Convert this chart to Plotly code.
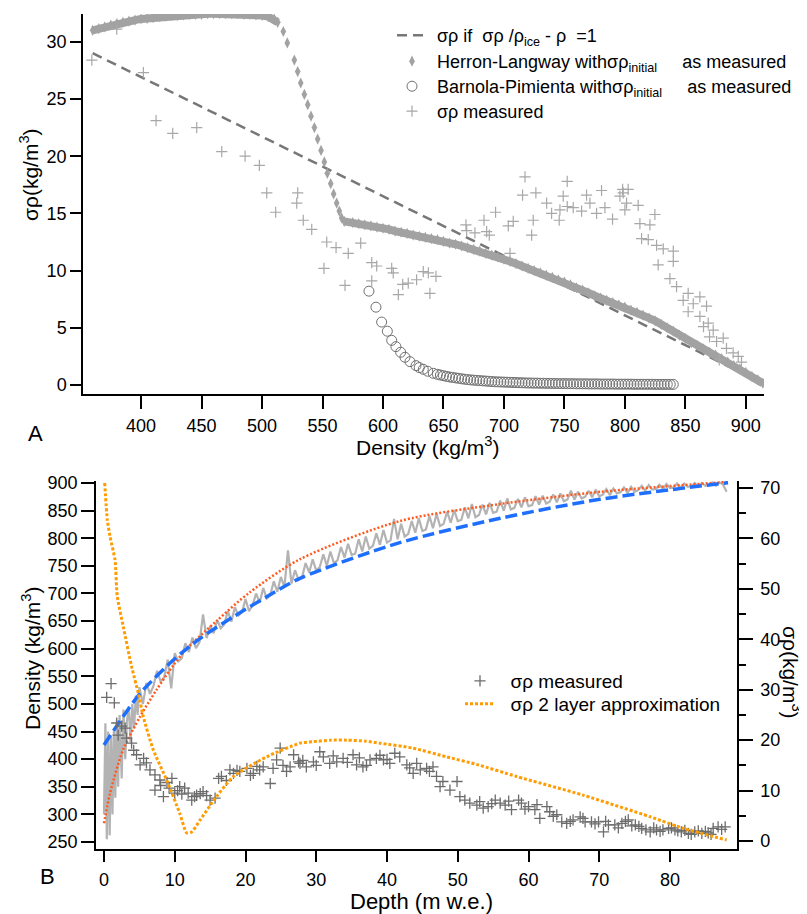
import plotly.graph_objects as go

FONT = "Liberation Sans, Arial, Helvetica, sans-serif"

# ---------------- Panel A data ----------------
# sigma-rho if sigma-rho/(rho_ice - rho) = 1 (straight line, end points)
lim_rho = [360, 914]
lim_sig = [29.0, 0.15]

# Herron-Langway model with initial sigma-rho as measured
hl_rho = [360, 365, 370, 375, 380, 385, 390, 395, 400, 405, 410, 415, 420, 425, 430,
          435, 440, 445, 450, 455, 460, 465, 470, 475, 480, 485, 490, 495, 500, 505,
          510, 513,
          517.6, 520.9, 526.7, 529.5, 532.0, 535.0, 537.8, 540.5, 543.3, 546.0, 548.8,
          551.5, 554.0, 556.8, 559.2, 561.7, 563.9, 565.8,
          568, 575, 580, 585, 590, 595, 600, 605, 610, 615, 620, 625, 630, 635, 640, 645,
          650, 655, 660, 665, 670, 675, 680, 685, 690, 695, 700, 705, 710, 715, 720, 725,
          730, 735, 740, 745, 750, 755, 760, 765, 770, 775, 780, 785, 790, 795, 800, 805,
          810, 815, 820, 825, 830, 835, 840, 845, 850, 855, 860, 865, 870, 875, 880, 885,
          890, 895, 900, 905, 910, 914]
hl_sig = [31.0, 31.15, 31.3, 31.45, 31.6, 31.7, 31.8, 31.9, 32.0, 32.05, 32.1, 32.2, 32.25,
          32.3, 32.3, 32.35, 32.4, 32.4, 32.4, 32.45, 32.45, 32.45, 32.45, 32.45, 32.45,
          32.4, 32.4, 32.35, 32.3, 32.2, 32.0, 31.7,
          30.9, 29.9, 28.4, 27.4, 26.4, 25.4, 24.5, 23.5, 22.5, 21.5, 20.5,
          19.5, 18.5, 17.6, 16.7, 15.9, 15.2, 14.6,
          14.3, 14.2, 14.1, 14.0, 13.9, 13.8, 13.7, 13.6, 13.45, 13.35, 13.25, 13.1, 13.0,
          12.9, 12.8, 12.7, 12.55, 12.4, 12.3, 12.15, 12.0, 11.85, 11.7, 11.5, 11.35, 11.2,
          11.0, 10.8, 10.6, 10.4, 10.2, 10.0, 9.8, 9.6, 9.4, 9.2, 9.0, 8.75, 8.5, 8.3, 8.05,
          7.8, 7.6, 7.4, 7.2, 7.0, 6.8, 6.55, 6.35, 6.1, 5.85, 5.6, 5.3, 5.0, 4.7, 4.35,
          4.05, 3.7, 3.45, 3.15, 2.85, 2.6, 2.3, 2.0, 1.7, 1.4, 1.1, 0.75, 0.45, 0.15, 0.0]

# Barnola-Pimienta model with initial sigma-rho as measured
bp_rho = [588.4, 594.2, 598.9, 603.6, 607.2, 610.7, 614.6, 618.2, 622.3, 627.3, 630.0,
          633.3, 637.0, 641.6, 645, 647.5, 650, 652.5, 655, 657.5, 660, 662.5, 665, 667.5,
          670, 672.5, 675, 677.5, 680, 682.5, 685, 687.5, 690, 692.5, 695, 697.5, 700,
          702.5, 705, 707.5, 710, 712.5, 715, 717.5, 720, 722.5, 725, 727.5, 730, 732.5,
          735, 737.5, 740, 742.5, 745, 747.5, 750, 752.5, 755, 757.5, 760, 762.5, 765,
          767.5, 770, 772.5, 775, 777.5, 780, 782.5, 785, 787.5, 790, 792.5, 795, 797.5,
          800, 802.5, 805, 807.5, 810, 812.5, 815, 817.5, 820, 822.5, 825, 827.5, 830,
          832.5, 835, 837.5, 840]
bp_sig = [8.2, 6.8, 5.5, 4.7, 3.9, 3.35, 2.86, 2.42, 2.04, 1.69, 1.52, 1.37, 1.2, 1.02,
          0.93, 0.87, 0.81, 0.75, 0.70, 0.66, 0.62, 0.58, 0.54, 0.50,
          0.47, 0.44, 0.42, 0.40, 0.38, 0.36, 0.34, 0.32, 0.30, 0.28, 0.27, 0.26, 0.25,
          0.24, 0.23, 0.22, 0.21, 0.20, 0.19, 0.18, 0.17, 0.17, 0.16, 0.16, 0.15, 0.15,
          0.14, 0.14, 0.13, 0.13, 0.12, 0.12, 0.12, 0.11, 0.11, 0.11, 0.10, 0.10, 0.10,
          0.10, 0.09, 0.09, 0.09, 0.09, 0.08, 0.08, 0.08, 0.08, 0.08, 0.07, 0.07, 0.07,
          0.07, 0.07, 0.07, 0.06, 0.06, 0.06, 0.06, 0.06, 0.06, 0.06, 0.05, 0.05, 0.05,
          0.05, 0.05, 0.05, 0.05]

# sigma-rho measured versus density
ms_rho = [359.3, 379.9, 401.9, 412.4, 426.2, 446.0, 466.7, 486.0, 497.8, 503.9, 511.3,
          528.7, 529.5, 534.1, 541.1, 551.2, 553.5, 561.2, 568.6, 571.3, 581.6, 590.7,
          590.7, 594.8, 607.2, 608.5, 612.7, 616.3, 620.9, 627.8, 633.3, 637.5, 638.8,
          643.8, 668.6, 669.2, 676.0, 683.5, 685.7, 687.9, 693.1, 703.6, 705.0, 707.7,
          715.4, 717.4, 722.9, 724.2, 726.4, 735.3, 739.4, 745.7, 746.3, 749.0, 752.3,
          752.3, 757.3, 764.2, 768.3, 771.1, 776.6, 780.7, 783.5, 789.8, 795.9, 798.1,
          798.6, 800.0, 801.4, 802.7, 811.0, 812.4, 813.8, 819.3, 820.7, 824.8, 826.2,
          827.5, 831.7, 837.2, 840.0, 840.0, 842.7, 848.2, 852.3, 852.3, 856.5, 862.0,
          862.0, 865.0, 867.5, 868.9, 870.0, 873.0, 875.8, 878.0, 881.3, 884.0, 889.5,
          893.7, 896.4]
ms_sig = [28.4, 31.1, 27.3, 23.1, 22.0, 22.5, 20.4, 20.0, 19.2, 16.8, 15.1,
          15.9, 16.8, 14.4, 13.6, 10.2, 12.5, 12.0, 8.7, 11.5, 12.4, 10.7,
          9.1, 10.4, 10.2, 9.8, 7.9, 8.8, 8.9, 9.2, 9.9, 9.8, 8.0,
          9.5, 14.0, 13.5, 13.3, 14.4, 13.4, 13.1, 15.1, 13.9, 11.5, 14.3,
          16.6, 18.2, 13.1, 14.4, 16.8, 15.9, 15.0, 14.4, 15.3, 16.5, 17.8,
          15.6, 15.5, 15.2, 16.6, 15.9, 15.0, 17.0, 15.5, 14.5, 16.5, 17.1,
          16.8, 15.3, 15.9, 17.1, 15.7, 14.1, 12.8, 12.7, 14.0, 14.9, 12.2,
          10.5, 11.9, 9.3, 11.7, 10.8, 8.6, 7.4, 8.0, 6.4, 7.1, 7.7,
          6.0, 5.1, 6.9, 5.4, 4.2, 4.8, 3.8, 2.2, 4.1, 3.2, 2.8,
          2.5, 2.0]

# ---------------- Panel B data ----------------
# measured density profile
den_depth = [0, 0.2, 0.4, 0.6, 0.8, 1.0, 1.2, 1.4, 1.6, 1.8, 2.0, 2.2,
             2.5, 2.75, 3.0, 3.25, 3.5, 3.75, 4.0, 4.25, 4.5, 4.75, 5.0,
             5.5, 6.0, 6.5, 7.0, 7.5, 8.0, 8.5, 9.0, 9.5, 10.0,
             10.5, 11.0, 11.5, 12.0, 12.5, 13.0, 13.5, 14.0, 14.5, 15.0,
             15.5, 16.0, 16.5, 17.0, 17.5, 18.0, 18.5, 19.0, 19.5, 20.0,
             20.5, 21.0, 21.5, 22.0, 22.5, 23.0, 23.5, 24.0, 24.5, 25.0,
             25.5, 26.0, 26.5, 27.0, 27.5, 28.0, 28.5, 29.0, 29.5, 30.0,
             30.5, 31.0, 31.5, 32.0, 32.5, 33.0, 33.5, 34.0, 34.5, 35.0,
             35.5, 36.0, 36.5, 37.0, 37.5, 38.0, 38.5, 39.0, 39.5, 40.0,
             40.5, 41.0, 41.5, 42.0, 42.5, 43.0, 43.5, 44.0, 44.5, 45.0,
             45.5, 46.0, 46.5, 47.0, 47.5, 48.0, 48.5, 49.0, 49.5, 50.0,
             50.5, 51.0, 51.5, 52.0, 52.5, 53.0, 53.5, 54.0, 54.5, 55.0,
             55.5, 56.0, 56.5, 57.0, 57.5, 58.0, 58.5, 59.0, 59.5, 60.0,
             60.5, 61.0, 61.5, 62.0, 62.5, 63.0, 63.5, 64.0, 64.5, 65.0,
             65.5, 66.0, 66.5, 67.0, 67.5, 68.0, 68.5, 69.0, 69.5, 70.0,
             70.5, 71.0, 71.5, 72.0, 72.5, 73.0, 73.5, 74.0, 74.5, 75.0,
             75.5, 76.0, 76.5, 77.0, 77.5, 78.0, 78.5, 79.0, 79.5, 80.0,
             80.5, 81.0, 81.5, 82.0, 82.5, 83.0, 83.5, 84.0, 84.5, 85.0,
             85.5, 86.0, 86.5, 87.0, 87.5, 88.0]
den_meas = [300, 465, 255, 450, 262, 440, 300, 455, 330, 470, 350, 480,
            365, 490, 400, 470, 495, 430, 500, 455, 515, 480, 530,
            500, 538, 518, 533, 560, 541, 548, 580, 528, 592,
            577, 583, 610, 594, 620, 601, 612, 662, 619, 641,
            628, 652, 637, 644, 668, 649, 675, 660, 666, 690,
            668, 679, 700, 683, 710, 691, 697, 722, 703, 730,
            712, 778, 718, 742, 725, 730, 755, 738, 762, 741,
            748, 771, 750, 776, 755, 760, 784, 765, 790, 770,
            772, 798, 776, 803, 781, 786, 809, 788, 815, 792,
            796, 835, 798, 826, 803, 808, 831, 810, 836, 813,
            816, 840, 818, 844, 822, 826, 848, 828, 851, 831,
            833, 856, 836, 862, 838, 842, 861, 843, 864, 846,
            848, 868, 850, 872, 852, 855, 871, 856, 874, 858,
            860, 876, 861, 877, 863, 866, 879, 865, 881, 867,
            870, 886, 870, 884, 872, 875, 886, 874, 888, 876,
            879, 889, 878, 890, 881, 883, 892, 882, 893, 884,
            887, 895, 886, 896, 888, 889, 897, 889, 898, 891,
            892, 899, 891, 899, 893, 894, 900, 893, 900, 895,
            896, 901, 895, 901, 897, 884]

# density model (red dotted)
red_depth = [0, 0.85, 2.7, 5.1, 7.4, 9.8, 11.7, 15.9, 20.6, 27.7, 41.8, 56.0, 70.1, 88.2]
red_den = [284, 338, 417, 477, 525, 570, 600, 650, 702, 762, 831, 862, 884, 902]

# density model (blue dashed)
blue_depth = [0, 2.7, 5.1, 9.8, 13.6, 18.3, 23.0, 27.7, 41.8, 56.0, 70.1, 88.2]
blue_den = [425.6, 477, 519, 579.5, 618.8, 657.9, 694, 727.4, 791.9, 836.1, 870.5, 900.6]

# sigma-rho measured versus depth
sm_depth = [0.38, 1.0, 1.46, 1.8, 2.0, 2.5, 3.0, 3.2, 3.9, 4.2, 4.6, 5.1, 5.6, 6.0, 6.5,
            7.2, 7.2, 7.9, 8.0, 8.4, 8.9, 9.2, 9.6, 10.0, 10.4, 10.7, 11.0, 11.4, 11.9,
            12.4, 12.8, 13.1, 13.6, 14.0, 14.5, 15.0, 15.7, 16.2, 16.6, 17.3, 17.8, 18.3,
            18.8, 19.2, 20.2, 20.7, 21.1, 21.6, 22.0, 22.5, 23.5, 23.9, 24.4, 24.9, 25.3,
            25.8, 26.3, 26.8, 27.5, 27.7, 28.1, 28.6, 29.6, 30.0, 30.5, 31.0, 31.9, 32.4,
            32.9, 33.8, 34.4, 35.2, 35.7, 36.1, 36.6, 37.1, 37.6, 38.5, 39.0, 39.5, 40.0,
            40.4, 41.1, 41.8, 42.8, 43.2, 43.7, 44.2, 44.7, 45.6, 46.0, 46.5, 47.0, 47.5,
            47.9, 48.9, 49.9, 50.3, 51.0, 51.7, 52.7, 53.1, 53.6, 54.3, 54.8, 55.3, 56.0,
            56.7, 57.2, 57.6, 58.6, 59.0, 59.5, 60.0, 60.9, 61.2, 61.6, 62.6, 63.0, 63.5,
            64.0, 64.7, 65.4, 65.9, 66.3, 67.3, 67.7, 68.0, 68.9, 69.4, 69.9, 70.6, 70.9,
            71.3, 72.2, 72.7, 73.2, 73.7, 74.1, 74.6, 75.1, 75.6, 76.0, 76.6, 77.2, 77.7,
            78.1, 78.6, 79.0, 79.8, 80.2, 80.7, 81.1, 81.6, 82.1, 82.6, 83.0, 83.5, 84.0,
            84.5, 85.0, 85.4, 85.8, 86.1, 86.8, 87.3, 87.8]
sm_sig = [28.5, 31.2, 27.4, 23.4, 21.0, 22.8, 22.4, 20.4, 19.4, 18.0, 17.1, 15.1, 16.4,
          15.5, 14.1, 13.1, 10.1, 12.1, 11.0, 8.8, 11.6, 10.5, 12.4, 9.5, 10.0, 10.8,
          9.3, 10.5, 9.5, 8.1, 8.8, 9.1, 9.4, 9.8, 9.0, 8.1, 8.5, 12.4, 12.8, 12.0, 14.1,
          13.4, 14.0, 13.8, 14.4, 13.0, 13.4, 14.8, 14.1, 14.7, 11.4, 14.4, 16.1, 18.4,
          15.0, 13.8, 14.7, 17.1, 15.7, 15.4, 16.0, 14.7, 15.7, 15.0, 17.7, 16.7, 15.4,
          16.9, 15.7, 16.4, 15.6, 17.1, 15.1, 16.5, 14.7, 15.0, 16.1, 16.4, 17.0, 16.1,
          16.2, 15.4, 17.4, 16.7, 15.1, 14.5, 13.4, 15.4, 14.1, 14.4, 13.8, 14.7, 12.8,
          10.8, 11.8, 10.1, 11.8, 8.8, 8.1, 7.5, 7.1, 7.8, 6.5, 6.8, 7.4, 8.1, 7.5, 7.1,
          7.9, 6.2, 8.1, 7.5, 6.3, 6.8, 6.2, 7.2, 4.5, 6.8, 5.8, 4.9, 5.2, 3.8, 3.5, 3.9,
          4.2, 4.8, 4.5, 3.8, 3.8, 3.4, 3.8, 1.8, 3.9, 3.2, 3.2, 2.6, 3.5, 3.9, 4.2, 3.0,
          3.2, 2.9, 2.5, 2.2, 1.8, 2.6, 2.2, 1.9, 2.2, 2.5, 2.6, 2.2, 2.0, 1.8, 2.1, 1.5,
          1.3, 1.8, 2.0, 1.5, 1.9, 1.6, 1.3, 2.5, 2.8, 2.3, 2.8]

# sigma-rho 2 layer approximation
ap_depth = [0.1, 0.47, 0.85, 1.55, 1.88, 2.73, 3.9, 4.85, 5.55, 6.96, 8.85, 10.7, 11.7,
            12.4, 13.6, 15.9, 18.3, 23.0, 27.7, 29.6, 32.0, 34.3, 37.0, 39.0, 43.7, 48.4,
            52.9, 58.3, 67.7, 77.2, 81.9, 88.0]
ap_sig = [71.0, 63.7, 60.4, 55.8, 48.5, 42.5, 34.6, 29.3, 24.7, 18.1, 12.1, 5.5, 1.6,
          1.8, 4.2, 8.8, 12.8, 16.7, 19.4, 19.7, 20.0, 20.0, 19.8, 19.4, 18.4, 16.7,
          15.1, 12.8, 9.1, 4.8, 2.5, 0.2]

# ---------------- figure ----------------
# the page body has an 8 px margin, so the figure is laid out 8 px in from the window
OFF = 8
W, H = 807 - OFF, 914 - OFF
def px(v):
    return (v - OFF) / W
def py(v):
    return 1 - (v - OFF) / H

fig = go.Figure()

fig.add_trace(go.Scatter(
    x=lim_rho, y=lim_sig, mode="lines", xaxis="x", yaxis="y", legend="legend",
    name=" σρ if  σρ /ρ<sub>ice</sub> - ρ  =1",
    line=dict(color="#777777", width=2.5, dash="10px,6px")))

# continuous band under the closely packed diamonds (gap at the steep drop)
band_x, band_y = [], []
for r, s in zip(hl_rho, hl_sig):
    if r <= 513:
        band_x.append(r); band_y.append(s)
band_x.append(None); band_y.append(None)
for r, s in zip(hl_rho, hl_sig):
    if r >= 568:
        band_x.append(r); band_y.append(s)
fig.add_trace(go.Scatter(
    x=band_x, y=band_y, mode="lines", xaxis="x", yaxis="y", showlegend=False,
    hoverinfo="skip", line=dict(color="#a2a2a2", width=8)))

fig.add_trace(go.Scatter(
    x=hl_rho, y=hl_sig, mode="markers", xaxis="x", yaxis="y", legend="legend2",
    name=" Herron-Langway withσρ<sub>initial</sub>     as measured",
    marker=dict(symbol="diamond-tall", size=8, color="#a2a2a2", line=dict(width=0))))

fig.add_trace(go.Scatter(
    x=bp_rho, y=bp_sig, mode="markers", xaxis="x", yaxis="y", legend="legend3",
    name=" Barnola-Pimienta withσρ<sub>initial</sub>     as measured",
    marker=dict(symbol="circle-open", size=10, color="#707070",
                line=dict(color="#707070", width=1))))

fig.add_trace(go.Scatter(
    x=ms_rho, y=ms_sig, mode="markers", xaxis="x", yaxis="y", legend="legend4",
    name=" σρ measured",
    marker=dict(symbol="cross-thin-open", size=8, color="#a8a8a8",
                line=dict(color="#a8a8a8", width=1.2))))

# panel B
fig.add_trace(go.Scatter(
    x=den_depth, y=den_meas, mode="lines", xaxis="x2", yaxis="y2", showlegend=False,
    line=dict(color="#b3b3b3", width=2.2)))
fig.add_trace(go.Scatter(
    x=red_depth, y=red_den, mode="lines", xaxis="x2", yaxis="y2", showlegend=False,
    line=dict(color="#ff5a1f", width=2.5, dash="2px,2px", shape="spline", smoothing=0.8)))
fig.add_trace(go.Scatter(
    x=blue_depth, y=blue_den, mode="lines", xaxis="x2", yaxis="y2", showlegend=False,
    line=dict(color="#1f6fff", width=3.5, dash="12px,5px", shape="spline", smoothing=0.8)))
fig.add_trace(go.Scatter(
    x=sm_depth, y=sm_sig, mode="markers", xaxis="x2", yaxis="y3", legend="legend5",
    name="  σρ measured",
    marker=dict(symbol="cross-thin-open", size=8, color="#6c6c6c",
                line=dict(color="#6c6c6c", width=1.3))))
fig.add_trace(go.Scatter(
    x=ap_depth, y=ap_sig, mode="lines", xaxis="x2", yaxis="y3", legend="legend6",
    name="  σρ 2 layer approximation",
    line=dict(color="#ff9c00", width=3, dash="3px,2px", shape="spline", smoothing=0.6)))

axis_common = dict(showline=True, linecolor="black", linewidth=1.5, ticks="outside",
                   tickwidth=1.5, tickcolor="black", showgrid=False, zeroline=False,
                   tickfont=dict(family=FONT, size=18, color="black"), automargin=False)

def title(text, x, y, size=21, angle=0):
    return dict(text=text, x=px(x), y=py(y), xref="paper", yref="paper",
                xanchor="center", yanchor="middle", showarrow=False, textangle=angle,
                font=dict(family=FONT, size=size, color="black"))

def leg(x, center_y, size):
    # one legend per entry so each sits where the reference puts it
    return dict(x=px(x), xanchor="left", y=py(center_y - 20), yanchor="top",
                bgcolor="rgba(0,0,0,0)", font=dict(family=FONT, size=size),
                tracegroupgap=0)

fig.update_layout(
    width=W, height=H, template="none",
    paper_bgcolor="white", plot_bgcolor="white",
    margin=dict(l=0, r=0, t=0, b=0, autoexpand=False),
    font=dict(family=FONT, size=18, color="black"),
    xaxis=dict(domain=[px(83), px(764)], anchor="y", range=[352, 915],
               tick0=400, dtick=50, ticklen=13, ticklabelstandoff=2, **axis_common),
    yaxis=dict(domain=[py(394), py(14)], anchor="x", range=[-0.79, 32.43],
               tick0=0, dtick=5, ticklen=11, **axis_common),
    xaxis2=dict(domain=[px(96), px(737)], anchor="y2", range=[-1.13, 89.47],
                tick0=0, dtick=10, ticklen=11, ticklabelstandoff=3, **axis_common),
    yaxis2=dict(domain=[py(849), py(481)], anchor="x2", range=[237.3, 903.6],
                tick0=250, dtick=50, ticklen=13, **axis_common),
    yaxis3=dict(overlaying="y2", side="right", anchor="x2", range=[-1.59, 71.4],
                tick0=0, dtick=10, ticklen=14, ticklabelstandoff=4,
                minor=dict(dtick=5, ticks="outside", ticklen=7, tickwidth=1.5,
                           tickcolor="black"),
                **axis_common),
    legend=leg(392, 37, 18),
    legend2=leg(392, 63, 18),
    legend3=leg(392, 88, 18),
    legend4=leg(392, 113, 18),
    legend5=leg(460, 682, 19),
    legend6=leg(460, 705, 19),
    annotations=[
        title("A", 35, 433, 22),
        title("B", 47, 876, 22),
        title("Density (kg/m<sup>3</sup>)", 428, 446),
        title("σρ(kg/m<sup>3</sup>)", 29, 175, angle=-90),
        title("Density (kg/m<sup>3</sup>)", 31, 658, angle=-90),
        title("Depth (m w.e.)", 421, 901, 22),
        title("σρ(kg/m<sup>3</sup>)", 792, 672, angle=90),
    ],
)

fig.write_html("out.html")
